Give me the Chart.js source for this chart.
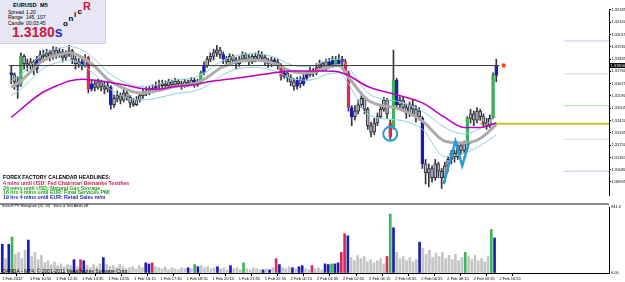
<!DOCTYPE html>
<html>
<head>
<meta charset="utf-8">
<script src="https://cdn.jsdelivr.net/npm/chart.js@4.4.1/dist/chart.umd.min.js"></script>
<style>
  html, body { margin: 0; padding: 0; background: #fff; }
  #wrap { position: relative; width: 625px; height: 282px; overflow: hidden; font-family: "Liberation Sans", Arial, sans-serif; }
  canvas { position: absolute; left: 0; }
  #main { top: 0; }
  #vol { top: 204px; }
  .t { position: absolute; white-space: nowrap; line-height: 1; z-index: 5; }
  .b { font-weight: bold; }
  .h { font-size: 5.2px; font-weight: bold; }
</style>
</head>
<body>
<div id="wrap">
  <canvas id="main" width="625" height="204"></canvas>
  <canvas id="vol" width="625" height="78"></canvas>

  <div style="position:absolute;left:0;top:0;width:105px;height:43px;background:#e6e6f4;border-right:1px solid #d2d2e4;border-bottom:1px solid #d2d2e4;z-index:4"></div>
  <span class="t b" style="left:13px;top:2.5px;font-size:5.6px">EURUSD</span>
  <span class="t b" style="left:40px;top:2.5px;font-size:5.6px">M5</span>
  <span class="t" style="left:8px;top:9.5px;font-size:5px">Spread</span>
  <span class="t" style="left:26px;top:9.5px;font-size:5px">1.20</span>
  <span class="t" style="left:8px;top:15px;font-size:5px">Range</span>
  <span class="t" style="left:26px;top:15px;font-size:5px">145, 107</span>
  <span class="t" style="left:8px;top:20.5px;font-size:5px">Candle</span>
  <span class="t" style="left:26px;top:20.5px;font-size:5px">00:03:45</span>
  <span class="t b" style="left:12px;top:25px;font-size:14px;color:#cc1840">1.3180<span style="color:#1a34c4">s</span></span>
  <span class="t b" style="left:63px;top:20px;font-size:8px">o</span>
  <span class="t b" style="left:68.5px;top:14.5px;font-size:8px">n</span>
  <span class="t b" style="left:74px;top:10.5px;font-size:8px">i</span>
  <span class="t b" style="left:77.5px;top:7.5px;font-size:8px">c</span>
  <span class="t b" style="left:83px;top:1px;font-size:11px;color:#cc1840">R</span>

  <span class="t h" style="left:3px;top:174.5px;color:#000">FOREX FACTORY CALENDAR HEADLINES:</span>
  <span class="t h" style="left:3px;top:181.3px;color:#d0204a">4 mins until USD: Fed Chairman Bernanke Testifies</span>
  <span class="t h" style="left:3px;top:186px;color:#22a022">34 mins until USD: Natural Gas Storage</span>
  <span class="t h" style="left:3px;top:190.4px;color:#22a022">18 hrs 4 mins until EUR: Final Services PMI</span>
  <span class="t h" style="left:3px;top:195px;color:#2828a8">19 hrs 4 mins until EUR: Retail Sales m/m</span>

  <div style="position:absolute;left:0;top:203px;width:609px;height:2px;background:#8c8c8c;z-index:4"></div>
  <span class="t" style="left:2px;top:205.3px;font-size:3.6px;color:#000">SonicR PV Histogram (20, 10)&nbsp;&nbsp;&nbsp;Voice &amp; Text Alerts off.</span>
  <span class="t" style="left:2px;top:269px;font-size:5px;color:#000">OANDA - MT4, © 2001-2011 MetaQuotes Software Corp.</span>
</div>

<script>
// EURUSD M5 bars, one entry per bar
const opens = [
  1.31750,1.31737,1.31687,1.31668,1.31863,1.31813,1.31800,1.31825,1.31775,1.31844,
  1.31876,1.31863,1.31888,1.31863,1.31907,1.31876,1.31895,1.31857,1.31876,1.31901,
  1.31844,1.31813,1.31825,1.31800,1.31857,1.31636,1.31674,1.31649,1.31687,1.31655,
  1.31636,1.31649,1.31529,1.31573,1.31592,1.31561,1.31611,1.31580,1.31542,1.31529,
  1.31561,1.31592,1.31611,1.31624,1.31636,1.31643,1.31655,1.31661,1.31674,1.31661,
  1.31687,1.31668,1.31693,1.31674,1.31661,1.31687,1.31674,1.31699,1.31668,1.31687,
  1.31750,1.31800,1.31844,1.31863,1.31888,1.31907,1.31876,1.31844,1.31825,1.31863,
  1.31838,1.31813,1.31844,1.31876,1.31850,1.31825,1.31863,1.31844,1.31876,1.31857,
  1.31832,1.31813,1.31838,1.31825,1.31800,1.31724,1.31750,1.31718,1.31687,1.31655,
  1.31699,1.31674,1.31712,1.31737,1.31762,1.31750,1.31787,1.31813,1.31781,1.31825,
  1.31800,1.31838,1.31813,1.31844,1.31825,1.31750,1.31510,1.31447,1.31485,1.31529,
  1.31573,1.31498,1.31384,1.31340,1.31403,1.31447,1.31498,1.31561,1.31403,1.31372,
  1.31699,1.31529,1.31561,1.31510,1.31466,1.31529,1.31498,1.31447,1.31435,1.31120,
  1.31057,1.31088,1.31025,1.31120,1.31069,1.31025,1.31107,1.31151,1.31195,1.31170,
  1.31246,1.31214,1.31265,1.31435,1.31466,1.31422,1.31485,1.31447,1.31403,1.31384,
  1.31447,1.31731
];
const highs = [
  1.31800,1.31750,1.31724,1.31888,1.31876,1.31844,1.31850,1.31838,1.31863,1.31901,
  1.31907,1.31913,1.31907,1.31932,1.31926,1.31920,1.31913,1.31901,1.31939,1.31913,
  1.31863,1.31850,1.31844,1.31876,1.31863,1.31699,1.31699,1.31706,1.31699,1.31687,
  1.31687,1.31661,1.31598,1.31624,1.31611,1.31636,1.31630,1.31592,1.31573,1.31586,
  1.31611,1.31636,1.31649,1.31655,1.31668,1.31687,1.31699,1.31699,1.31693,1.31706,
  1.31699,1.31712,1.31706,1.31693,1.31706,1.31699,1.31718,1.31712,1.31706,1.31762,
  1.31825,1.31863,1.31888,1.31913,1.31939,1.31926,1.31895,1.31863,1.31882,1.31876,
  1.31857,1.31863,1.31895,1.31888,1.31876,1.31882,1.31888,1.31901,1.31895,1.31876,
  1.31850,1.31857,1.31850,1.31844,1.31813,1.31775,1.31762,1.31737,1.31712,1.31718,
  1.31724,1.31737,1.31762,1.31787,1.31781,1.31813,1.31838,1.31825,1.31844,1.31850,
  1.31863,1.31863,1.31876,1.31863,1.31844,1.31762,1.31523,1.31523,1.31561,1.31592,
  1.31586,1.31510,1.31409,1.31435,1.31472,1.31523,1.31580,1.31573,1.31422,1.31907,
  1.31712,1.31586,1.31580,1.31535,1.31548,1.31561,1.31523,1.31510,1.31447,1.31151,
  1.31120,1.31107,1.31151,1.31132,1.31088,1.31132,1.31170,1.31214,1.31214,1.31265,
  1.31258,1.31277,1.31447,1.31498,1.31485,1.31510,1.31498,1.31466,1.31435,1.31460,
  1.31750,1.31844
];
const lows = [
  1.31674,1.31636,1.31573,1.31655,1.31775,1.31762,1.31775,1.31737,1.31750,1.31825,
  1.31825,1.31838,1.31832,1.31844,1.31850,1.31857,1.31825,1.31838,1.31863,1.31813,
  1.31775,1.31787,1.31769,1.31787,1.31611,1.31624,1.31624,1.31636,1.31624,1.31605,
  1.31617,1.31498,1.31510,1.31548,1.31535,1.31548,1.31561,1.31510,1.31517,1.31523,
  1.31548,1.31573,1.31592,1.31598,1.31611,1.31624,1.31630,1.31643,1.31636,1.31649,
  1.31649,1.31655,1.31655,1.31636,1.31649,1.31655,1.31661,1.31649,1.31655,1.31674,
  1.31737,1.31787,1.31825,1.31838,1.31863,1.31850,1.31813,1.31794,1.31813,1.31813,
  1.31775,1.31794,1.31825,1.31825,1.31800,1.31813,1.31825,1.31832,1.31832,1.31800,
  1.31787,1.31794,1.31800,1.31775,1.31699,1.31712,1.31687,1.31661,1.31630,1.31636,
  1.31649,1.31661,1.31699,1.31724,1.31724,1.31737,1.31775,1.31762,1.31769,1.31781,
  1.31787,1.31794,1.31800,1.31794,1.31737,1.31485,1.31384,1.31422,1.31466,1.31510,
  1.31466,1.31359,1.31309,1.31321,1.31384,1.31435,1.31485,1.31435,1.31290,1.31359,
  1.31510,1.31498,1.31485,1.31435,1.31447,1.31460,1.31409,1.31422,1.31088,1.30981,
  1.30962,1.30994,1.31006,1.31025,1.30950,1.30994,1.31069,1.31120,1.31132,1.31151,
  1.31183,1.31195,1.31246,1.31403,1.31384,1.31403,1.31422,1.31372,1.31359,1.31372,
  1.31435,1.31687
];
const closes = [
  1.31737,1.31687,1.31655,1.31863,1.31813,1.31800,1.31825,1.31775,1.31844,1.31876,
  1.31863,1.31888,1.31863,1.31907,1.31876,1.31895,1.31857,1.31876,1.31901,1.31844,
  1.31813,1.31825,1.31800,1.31844,1.31636,1.31674,1.31649,1.31687,1.31655,1.31636,
  1.31661,1.31529,1.31573,1.31592,1.31561,1.31611,1.31580,1.31542,1.31529,1.31561,
  1.31592,1.31611,1.31624,1.31636,1.31643,1.31655,1.31661,1.31674,1.31661,1.31687,
  1.31668,1.31693,1.31674,1.31661,1.31687,1.31674,1.31699,1.31668,1.31687,1.31750,
  1.31800,1.31844,1.31863,1.31888,1.31907,1.31876,1.31844,1.31825,1.31863,1.31838,
  1.31813,1.31844,1.31876,1.31850,1.31825,1.31863,1.31844,1.31876,1.31857,1.31832,
  1.31813,1.31838,1.31825,1.31800,1.31724,1.31750,1.31718,1.31687,1.31655,1.31699,
  1.31674,1.31712,1.31737,1.31762,1.31750,1.31787,1.31813,1.31781,1.31825,1.31800,
  1.31838,1.31813,1.31844,1.31825,1.31762,1.31510,1.31447,1.31485,1.31529,1.31573,
  1.31498,1.31384,1.31340,1.31403,1.31447,1.31498,1.31561,1.31466,1.31309,1.31699,
  1.31529,1.31561,1.31510,1.31466,1.31529,1.31498,1.31447,1.31485,1.31120,1.31057,
  1.31088,1.31025,1.31120,1.31069,1.31025,1.31107,1.31151,1.31195,1.31170,1.31246,
  1.31214,1.31258,1.31435,1.31466,1.31422,1.31485,1.31447,1.31403,1.31384,1.31435,
  1.31731,1.31800
];
// SonicR PV class per bar: n normal, b blue, r red, g green
const pvClass = (
  'bnbgnnnnbn' + 'nnnnnnnnnn' + 'nnbnrbnnnn' + 'nbnnnnnnnn' + 'nnnnbbrnnn' +
  'nnnnnnnbng' + 'bnnnnnbnnn' + 'bnnngnnnnn' + 'bnbnrbnnnb' + 'nbbnnrnnnb' +
  'bgbbrrbnnn' + 'nnnnnnnnrg' + 'bnnnnnnnbn' + 'nnnnnnnnnn' + 'nngnnnnnnn' + 'gb'
).split('');
const volumes = [
  410,205,410,515,265,295,205,325,470,235,
  295,190,250,145,175,120,160,105,130,90,
  120,105,190,90,190,175,105,75,120,90,
  130,220,120,90,105,75,120,90,60,75,
  90,60,105,75,145,130,145,90,75,60,
  90,45,75,60,45,75,60,75,60,120,
  90,105,75,90,60,75,90,60,75,45,
  105,60,75,45,145,60,45,75,60,45,
  45,60,45,75,205,120,75,60,90,75,
  60,90,105,60,45,105,60,75,45,130,
  120,130,130,145,295,560,530,220,175,250,
  205,235,160,190,145,175,205,130,235,840,
  645,295,205,235,175,220,160,190,440,355,
  265,325,220,280,235,295,205,250,190,265,
  175,220,295,235,190,250,175,205,160,235,
  620,500
];

// indicator lines, read at these bar indexes
const lineIdx = [0,3,6,10,15,18,22,26,30,35,40,45,51,57,61,65,70,76,82,88,93,98,102,105,111,121,128,135,141,146,151];
const dragonMid = [1.31649,1.31693,1.31756,1.31838,1.31876,1.31888,1.31857,1.31794,1.31706,1.31643,1.31611,1.31624,1.31655,1.31674,1.31718,1.31781,1.31825,1.31838,1.31813,1.31756,1.31750,1.31787,1.31800,1.31718,1.31561,1.31498,1.31416,1.31277,1.31265,1.31296,1.31391];
const dragonHigh = [1.31693,1.31737,1.31800,1.31882,1.31920,1.31932,1.31907,1.31844,1.31756,1.31687,1.31655,1.31668,1.31699,1.31718,1.31762,1.31825,1.31869,1.31882,1.31857,1.31800,1.31794,1.31832,1.31844,1.31787,1.31611,1.31548,1.31485,1.31372,1.31328,1.31365,1.31447];
const dragonLow = [1.31592,1.31636,1.31699,1.31781,1.31825,1.31838,1.31806,1.31737,1.31649,1.31586,1.31561,1.31573,1.31605,1.31624,1.31661,1.31724,1.31775,1.31787,1.31762,1.31706,1.31699,1.31737,1.31750,1.31674,1.31460,1.31422,1.31359,1.31170,1.31195,1.31246,1.31321];
const trendEma = [1.31441,1.31498,1.31554,1.31617,1.31668,1.31693,1.31706,1.31699,1.31687,1.31668,1.31643,1.31636,1.31655,1.31668,1.31687,1.31699,1.31712,1.31731,1.31750,1.31762,1.31762,1.31762,1.31756,1.31731,1.31655,1.31592,1.31542,1.31441,1.31372,1.31372,1.31403];

const levelPrices = [1.31970, 1.31743, 1.31523, 1.31397, 1.31290, 1.31069];
const levelFrom = [172, 172, 172, 146, 172, 172];
const levelColors = ['#c8c8e6', '#dadada', '#b6e0a4', '#c8c030', '#d8d8e0', '#c8c8ea'];

const circleAt = [118, 1.31328];
const zigzagIdx = [134.6, 138.3, 140.4, 142.5];
const zigzagPrice = [1.30981, 1.31277, 1.31107, 1.31265];

const priceTicks = [1.32185,1.32100,1.32015,1.31930,1.31845,1.31760,1.31675,1.31590,1.31505,1.31420,1.31335,1.31250,1.31165,1.31080,1.30995];
const timeTickPos = [0,8.5,16.5,24.5,32.5,40.5,48.5,56.5,64.5,72.5,80.5,88.5,96.5,104.5,112.5,120.5,128.5,136.5,144.5,152.5];
const timeTickLabels = ['1 Feb 2012','1 Feb 10:55','1 Feb 12:15','1 Feb 13:35','1 Feb 14:55','1 Feb 16:15','1 Feb 17:35','1 Feb 18:55','1 Feb 20:15','1 Feb 21:35','1 Feb 22:55','2 Feb 00:15','2 Feb 01:35','2 Feb 02:55','2 Feb 04:15','2 Feb 05:35','2 Feb 06:55','2 Feb 08:15','2 Feb 09:35','2 Feb 10:55'];

const X_MIN = -0.7, X_MAX = 186.1;
const Y_MIN = 1.30905, Y_MAX = 1.32191;
const VOL_MAX = 941;

const pvColor = { n: '#c4c4c4', b: '#1c1cb4', r: '#d42c55', g: '#3cb45a' };
const tickFont = { size: 4, family: '"Liberation Sans", Arial, sans-serif' };
const last = closes[closes.length - 1];

const pts = (xs, ys) => xs.map((x, i) => ({ x, y: ys[i] }));

const lineSet = (values, color, width) => ({
  type: 'line',
  data: pts(lineIdx, values),
  borderColor: color,
  borderWidth: width,
  pointRadius: 0,
  cubicInterpolationMode: 'monotone',
  order: 2,
});

const priceTag = {
  id: 'priceTag',
  afterDraw(chart) {
    const s = chart.scales.y;
    const py = s.getPixelForValue(last);
    const ctx = chart.ctx;
    ctx.save();
    ctx.fillStyle = '#000';
    ctx.fillRect(s.left + 1, py - 2.5, 15, 5);
    ctx.fillStyle = '#fff';
    ctx.font = '4px "Liberation Sans", Arial, sans-serif';
    ctx.textBaseline = 'middle';
    ctx.fillText(last.toFixed(5), s.left + 1.5, py);
    ctx.restore();
  },
};

const levelSets = levelPrices.map((p, k) => ({
  type: 'line',
  data: [{ x: levelFrom[k], y: p }, { x: X_MAX, y: p }],
  borderColor: levelColors[k],
  borderWidth: k === 3 ? 2 : 1,
  pointRadius: 0,
  order: 5,
}));

new Chart(document.getElementById('main'), {
  type: 'bar',
  data: {
    datasets: [
      {
        type: 'line',
        data: pts(zigzagIdx, zigzagPrice),
        borderColor: '#2a9ad8',
        borderWidth: 2.5,
        pointRadius: 0,
        order: 0,
      },
      {
        type: 'line',
        data: [{ x: circleAt[0], y: circleAt[1] }],
        showLine: false,
        pointRadius: 7,
        pointBorderWidth: 2,
        pointBorderColor: '#2a9ad8',
        pointBackgroundColor: 'rgba(0,0,0,0)',
        order: 0,
      },
      {
        type: 'line',
        data: [{ x: closes.length + 1.3, y: last }],
        showLine: false,
        pointRadius: 2.2,
        pointBorderWidth: 0,
        pointBackgroundColor: '#ff4a1a',
        order: 0,
      },
      {
        type: 'line',
        data: [{ x: X_MIN, y: last }, { x: closes.length, y: last }],
        borderColor: '#3a3a3a',
        borderWidth: 1,
        pointRadius: 0,
        order: 1,
      },
      lineSet(trendEma, '#c000c0', 1.5),
      lineSet(dragonHigh, '#8ccfe0', 1),
      lineSet(dragonLow, '#8ccfe0', 1),
      lineSet(dragonMid, '#ababab', 3),
      {
        data: opens.map((o, i) => ({ x: i, y: [o, closes[i]] })),
        backgroundColor: pvClass.map(c => c === 'n' ? '#b8b8c6' : pvColor[c]),
        borderColor: pvClass.map(c => c === 'n' ? '#2e2e36' : pvColor[c]),
        borderWidth: 1,
        borderSkipped: false,
        barThickness: 3,
        minBarLength: 1,
        order: 3,
      },
      {
        data: lows.map((l, i) => ({ x: i, y: [l, highs[i]] })),
        backgroundColor: '#34343c',
        barThickness: 1,
        order: 4,
      },
      ...levelSets,
    ],
  },
  options: {
    responsive: false,
    animation: false,
    events: [],
    layout: { padding: 0 },
    plugins: { legend: { display: false }, tooltip: { enabled: false } },
    datasets: { bar: { grouped: false } },
    scales: {
      x: { type: 'linear', min: X_MIN, max: X_MAX, display: false, offset: false },
      y: {
        type: 'linear',
        position: 'right',
        min: Y_MIN,
        max: Y_MAX,
        afterBuildTicks: s => { s.ticks = priceTicks.map(v => ({ value: v })); },
        afterFit: s => { s.width = 16; s.paddingTop = 0; s.paddingBottom = 0; },
        border: { display: true, color: '#000', width: 1 },
        grid: { drawOnChartArea: false, tickLength: 2, color: '#000' },
        ticks: { autoSkip: false, font: tickFont, color: '#000', padding: 0.5, callback: v => v.toFixed(5) },
      },
    },
  },
  plugins: [priceTag],
});

new Chart(document.getElementById('vol'), {
  type: 'bar',
  data: {
    datasets: [{
      data: volumes.map((v, i) => ({ x: i, y: v })),
      backgroundColor: pvClass.map(c => pvColor[c]),
      barThickness: 2,
    }],
  },
  options: {
    responsive: false,
    animation: false,
    events: [],
    layout: { padding: { top: 3 } },
    plugins: { legend: { display: false }, tooltip: { enabled: false } },
    scales: {
      x: {
        type: 'linear',
        min: X_MIN,
        max: X_MAX,
        offset: false,
        afterBuildTicks: s => { s.ticks = timeTickPos.map(v => ({ value: v })); },
        afterFit: s => { s.height = 9; s.paddingLeft = 0; s.paddingRight = 0; },
        border: { display: true, color: '#000', width: 1 },
        grid: { drawOnChartArea: false, tickLength: 3, color: '#000' },
        ticks: {
          autoSkip: false, maxRotation: 0, minRotation: 0, align: 'start', padding: 0,
          font: tickFont, color: '#000',
          callback: (v, i) => timeTickLabels[i],
        },
      },
      y: {
        position: 'right',
        min: 0,
        max: VOL_MAX,
        afterBuildTicks: s => { s.ticks = [{ value: 0 }, { value: VOL_MAX }]; },
        afterFit: s => { s.width = 16; s.paddingTop = 0; s.paddingBottom = 0; },
        border: { display: true, color: '#000', width: 1 },
        grid: { drawOnChartArea: false, drawTicks: false },
        ticks: { autoSkip: false, font: tickFont, color: '#000', padding: 2, callback: v => v === 0 ? '0.00' : v.toFixed(1) },
      },
    },
  },
});
</script>
</body>
</html>
